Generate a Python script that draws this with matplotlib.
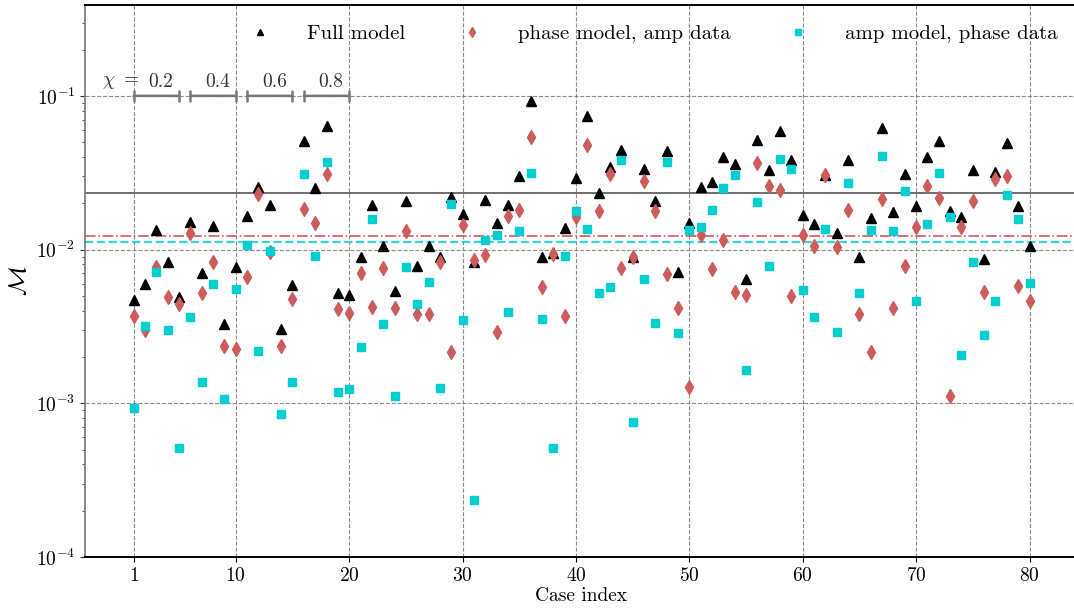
import numpy as np
import matplotlib
matplotlib.use('Agg')
import matplotlib.pyplot as plt

plt.rcParams['font.family'] = 'serif'
plt.rcParams['font.serif'] = ['cmr10']
plt.rcParams['mathtext.fontset'] = 'cm'
plt.rcParams['axes.formatter.use_mathtext'] = True

cases = np.arange(1, 81)

full_model = [
    4.71e-3, 5.96e-3, 1.34e-2, 8.28e-3, 4.90e-3, 1.51e-2, 7.01e-3, 1.43e-2, 3.27e-3, 7.67e-3,
    1.66e-2, 2.57e-2, 1.95e-2, 3.06e-3, 5.89e-3, 5.09e-2, 2.51e-2, 6.41e-2, 5.20e-3, 5.07e-3,
    8.93e-3, 1.95e-2, 1.06e-2, 5.41e-3, 2.07e-2, 7.83e-3, 1.06e-2, 8.99e-3, 2.19e-2, 1.71e-2,
    8.36e-3, 2.10e-2, 1.50e-2, 1.95e-2, 3.03e-2, 9.31e-2, 8.99e-3, 9.48e-3, 1.38e-2, 2.92e-2,
    7.45e-2, 2.33e-2, 3.47e-2, 4.46e-2, 8.93e-3, 3.33e-2, 2.08e-2, 4.35e-2, 7.13e-3, 1.49e-2,
    2.57e-2, 2.77e-2, 4.03e-2, 3.61e-2, 6.44e-3, 5.18e-2, 3.30e-2, 5.92e-2, 3.84e-2, 1.68e-2,
    1.46e-2, 3.06e-2, 1.28e-2, 3.84e-2, 8.93e-3, 1.61e-2, 6.17e-2, 1.75e-2, 3.10e-2, 1.91e-2,
    3.99e-2, 5.12e-2, 1.79e-2, 1.64e-2, 3.27e-2, 8.67e-3, 3.21e-2, 4.92e-2, 1.93e-2, 1.05e-2,
]

phase_model = [
    3.71e-3, 3.01e-3, 7.67e-3, 4.90e-3, 4.44e-3, 1.28e-2, 5.20e-3, 8.32e-3, 2.37e-3, 2.25e-3,
    6.67e-3, 2.30e-2, 9.70e-3, 2.37e-3, 4.75e-3, 1.83e-2, 1.50e-2, 3.11e-2, 4.09e-3, 3.85e-3,
    7.01e-3, 4.22e-3, 7.57e-3, 4.16e-3, 1.33e-2, 3.82e-3, 3.82e-3, 8.32e-3, 2.17e-3, 1.45e-2,
    8.57e-3, 9.25e-3, 2.93e-3, 1.66e-2, 1.81e-2, 5.36e-2, 5.69e-3, 9.30e-3, 3.71e-3, 1.64e-2,
    4.80e-2, 1.79e-2, 3.10e-2, 7.57e-3, 8.99e-3, 2.81e-2, 1.77e-2, 6.95e-3, 4.16e-3, 1.27e-3,
    1.25e-2, 7.45e-3, 1.15e-2, 5.33e-3, 5.07e-3, 3.65e-2, 2.61e-2, 2.44e-2, 5.00e-3, 1.25e-2,
    1.06e-2, 3.06e-2, 1.04e-2, 1.81e-2, 3.80e-3, 2.17e-3, 2.13e-2, 4.16e-3, 7.83e-3, 1.41e-2,
    2.59e-2, 2.16e-2, 1.12e-3, 1.40e-2, 2.08e-2, 5.33e-3, 2.87e-2, 3.02e-2, 5.81e-3, 4.66e-3,
]

amp_model = [
    9.38e-4, 3.16e-3, 7.13e-3, 3.01e-3, 5.11e-4, 3.66e-3, 1.38e-3, 5.96e-3, 1.07e-3, 5.55e-3,
    1.07e-2, 2.19e-3, 9.81e-3, 8.53e-4, 1.37e-3, 3.10e-2, 9.14e-3, 3.74e-2, 1.18e-3, 1.24e-3,
    2.32e-3, 1.58e-2, 3.27e-3, 1.11e-3, 7.74e-3, 4.42e-3, 6.19e-3, 1.25e-3, 1.98e-2, 3.49e-3,
    2.35e-4, 1.16e-2, 1.25e-2, 3.92e-3, 1.32e-2, 3.14e-2, 3.54e-3, 5.15e-4, 9.14e-3, 1.77e-2,
    1.36e-2, 5.25e-3, 5.74e-3, 3.84e-2, 7.60e-4, 6.44e-3, 3.35e-3, 3.74e-2, 2.86e-3, 1.34e-2,
    1.40e-2, 1.81e-2, 2.53e-2, 3.06e-2, 1.65e-3, 2.05e-2, 7.83e-3, 3.87e-2, 3.33e-2, 5.47e-3,
    3.66e-3, 1.36e-2, 2.93e-3, 2.70e-2, 5.20e-3, 1.34e-2, 4.07e-2, 1.33e-2, 2.41e-2, 4.66e-3,
    1.47e-2, 3.14e-2, 1.64e-2, 2.07e-3, 8.28e-3, 2.79e-3, 4.66e-3, 2.27e-2, 1.58e-2, 6.05e-3,
]

# reference levels
full_level = 0.0233
phase_level = 0.0123
amp_level = 0.0112

chi_values = [0.2, 0.4, 0.6, 0.8]
chi_start = [1, 6, 11, 16]
chi_end = [5, 10, 15, 20]
xticks = [1, 10, 20, 30, 40, 50, 60, 70, 80]

fig = plt.figure(figsize=(10.74, 6.09), dpi=100)
ax = fig.add_axes([85 / 1074, 52 / 609, 991 / 1074, 552 / 609])

red = '#cd5c5c'
cyan = '#00ced1'

ax.plot(cases, full_model, '^', color='black', ms=6.5, label='Full model', zorder=3)
ax.plot(cases, phase_model, 'd', color=red, ms=7.5, label='phase model, amp data', zorder=3)
ax.plot(cases, amp_model, 's', color=cyan, ms=6, label='amp model, phase data', zorder=3)

ax.axhline(full_level, color='#555555', lw=1.2, ls='-')
ax.axhline(phase_level, color=red, lw=1.2, ls='-.')
ax.axhline(amp_level, color=cyan, lw=1.6, ls='--', alpha=0.8)

ax.set_yscale('log')
ax.set_ylim(1e-4, 0.39)
ax.set_xlim(-3.3, 84.1)
ax.set_xticks(xticks)
ax.grid(True, which='major', ls='--', color='gray', lw=0.8, alpha=0.9)

# chi grouping brackets
for c, a, b in zip(chi_values, chi_start, chi_end):
    ax.annotate('', xy=(a, 0.1), xytext=(b, 0.1),
                arrowprops=dict(arrowstyle='|-|, widthA=0.35, widthB=0.35', color='#777777',
                                lw=1.8, shrinkA=0, shrinkB=0))
    ax.text((a + b) / 2 + 0.4, 0.107, str(c), ha='center', va='bottom', fontsize=14, color='#333333')
ax.text(-1.8, 0.107, r'$\chi\ =$', ha='left', va='bottom', fontsize=14, color='#333333')

for s in ['top', 'bottom']:
    ax.spines[s].set_linewidth(1.4)
    ax.spines[s].set_color('black')
ax.spines['left'].set_color('#777777')
ax.spines['left'].set_linewidth(1.2)
ax.spines['right'].set_visible(False)
ax.tick_params(axis='both', labelsize=14)
ax.tick_params(axis='y', which='both', color='#333333')

ax.set_xlabel('Case index', fontsize=14, labelpad=2)
ax.set_ylabel(r'$\mathcal{M}$', fontsize=18, labelpad=4)

ax.legend(loc='upper right', ncol=3, frameon=False, fontsize=15, markerscale=0.7,
          bbox_to_anchor=(1.0, 0.998), columnspacing=2.2, handletextpad=1.25)

fig.savefig('out.png', dpi=100)
